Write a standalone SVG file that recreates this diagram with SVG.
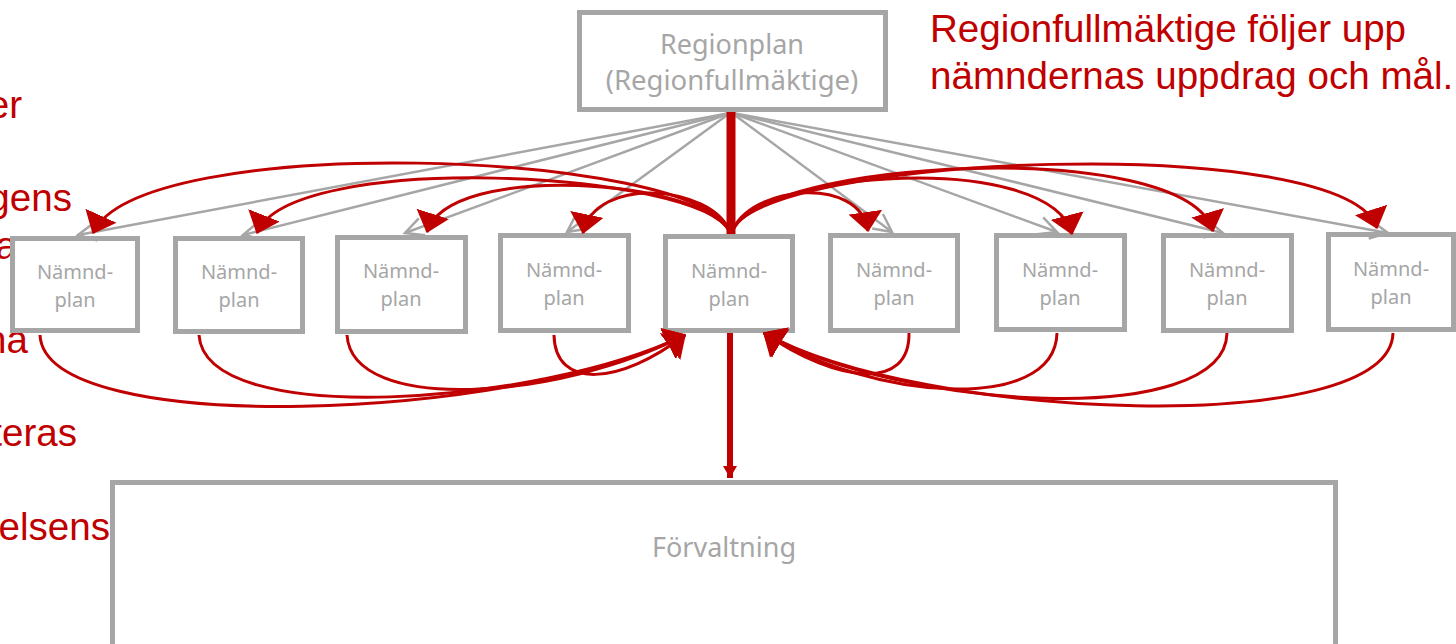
<svg xmlns="http://www.w3.org/2000/svg" width="1456" height="644" viewBox="0 0 1456 644">
<style>
.box{fill:#ffffff;stroke:#a6a6a6;stroke-width:5}
.gt{font-family:"Noto Sans","Open Sans",sans-serif;fill:#a6a6a6;text-anchor:middle}
.nt{font-size:20px}
.rt{font-family:"Liberation Sans",Arial,sans-serif;font-size:38.6px;fill:#c00000}
.gl{fill:none;stroke:#a6a6a6;stroke-width:2.5;marker-end:url(#gv)}
.rc{fill:none;stroke:#c00000;stroke-width:3;marker-end:url(#rtri)}
</style>
<defs>
<marker id="rtri" markerUnits="userSpaceOnUse" viewBox="0 0 20 34" markerWidth="20" markerHeight="34" refX="19" refY="17" orient="auto"><path d="M0,0 L20,17 L0,34 z" fill="#c00000"/></marker>
<marker id="gv" markerUnits="userSpaceOnUse" viewBox="0 0 22 22" markerWidth="22" markerHeight="22" refX="20" refY="11" orient="auto" overflow="visible"><path d="M2,2 L20,11 L2,20" fill="none" stroke="#a6a6a6" stroke-width="2.5"/></marker>
<marker id="rdown" markerUnits="userSpaceOnUse" viewBox="0 0 12 14" markerWidth="12" markerHeight="14" refX="12" refY="7" orient="auto"><path d="M0,0 L12,7 L0,14 z" fill="#c00000"/></marker>
</defs>

<g id="left-text">
<text class="rt" x="22" y="118" text-anchor="end">er</text>
<text class="rt" x="72" y="211" text-anchor="end">gens</text>
<text class="rt" x="17" y="259" text-anchor="end">a</text>
<text class="rt" x="28" y="353" text-anchor="end">na</text>
<text class="rt" x="77" y="446" text-anchor="end">teras</text>
<text class="rt" x="110" y="540" text-anchor="end">elsens</text>
</g>
<g id="note">
<text class="rt" x="930" y="42">Regionfullmäktige följer upp</text>
<text class="rt" x="930" y="89">nämndernas uppdrag och mål.</text>
</g>

<g id="regionplan">
<rect class="box" x="579.5" y="12.5" width="306" height="97"/>
<text class="gt" x="732" y="54" font-size="27">Regionplan</text>
<text class="gt" x="732" y="90" font-size="27.5">(Regionfullmäktige)</text>
</g>

<g id="forvaltning">
<rect class="box" x="112.5" y="482.5" width="1223" height="200"/>
<text class="gt" x="724" y="557" font-size="27">Förvaltning</text>
</g>

<g id="n1"><rect class="box" x="12.5" y="238.5" width="125" height="92"/><text class="gt nt" x="75" y="279">Nämnd-</text><text class="gt nt" x="75" y="307">plan</text></g>
<g id="n2"><rect class="box" x="175.5" y="238.5" width="127" height="93"/><text class="gt nt" x="239" y="279">Nämnd-</text><text class="gt nt" x="239" y="307">plan</text></g>
<g id="n3"><rect class="box" x="337.5" y="237.5" width="128" height="94"/><text class="gt nt" x="401" y="278">Nämnd-</text><text class="gt nt" x="401" y="306">plan</text></g>
<g id="n4"><rect class="box" x="500.5" y="235.5" width="128" height="95"/><text class="gt nt" x="564" y="277">Nämnd-</text><text class="gt nt" x="564" y="305">plan</text></g>
<g id="n5"><rect class="box" x="665.5" y="236.5" width="127" height="94"/><text class="gt nt" x="729" y="278">Nämnd-</text><text class="gt nt" x="729" y="306">plan</text></g>
<g id="n6"><rect class="box" x="830.5" y="235.5" width="127" height="95"/><text class="gt nt" x="894" y="277">Nämnd-</text><text class="gt nt" x="894" y="305">plan</text></g>
<g id="n7"><rect class="box" x="996.5" y="235.5" width="128" height="94"/><text class="gt nt" x="1060" y="277">Nämnd-</text><text class="gt nt" x="1060" y="305">plan</text></g>
<g id="n8"><rect class="box" x="1163.5" y="235.5" width="128" height="95"/><text class="gt nt" x="1227" y="277">Nämnd-</text><text class="gt nt" x="1227" y="305">plan</text></g>
<g id="n9"><rect class="box" x="1328.5" y="234.5" width="125" height="95"/><text class="gt nt" x="1391" y="276">Nämnd-</text><text class="gt nt" x="1391" y="304">plan</text></g>

<g id="connectors">
<g id="gray-lines">
<path class="gl" d="M730,113 L78,235"/>
<path class="gl" d="M730,113 L243,235"/>
<path class="gl" d="M730,113 L405,233"/>
<path class="gl" d="M730,113 L567,232"/>
<path class="gl" d="M732,113 L892,232"/>
<path class="gl" d="M732,113 L1057,232"/>
<path class="gl" d="M732,113 L1223,233"/>
<path class="gl" d="M732,113 L1388,233"/>
</g>
<path d="M731,112 L731,234" stroke="#c00000" stroke-width="9" fill="none"/>
<path d="M730,333 L730,478" stroke="#c00000" stroke-width="6" fill="none" marker-end="url(#rdown)"/>
<g id="top-curves">
<path class="rc" d="M730,232 C700,150 140,130 93,233"/>
<path class="rc" d="M730,232 C700,170 290,150 257,233"/>
<path class="rc" d="M730,232 C705,180 450,160 427,232"/>
<path class="rc" d="M730,232 C712,185 595,175 583,233"/>
<path class="rc" d="M732,232 C750,185 860,175 868,231"/>
<path class="rc" d="M732,232 C755,170 1050,150 1072,234"/>
<path class="rc" d="M732,232 C755,160 1185,135 1213,231"/>
<path class="rc" d="M732,232 C755,155 1345,130 1377,228"/>
</g>
<g id="bottom-curves">
<path class="rc" d="M40,335 C45,440 520,420 685,335"/>
<path class="rc" d="M199,335 C205,430 540,405 685,335"/>
<path class="rc" d="M347,335 C352,415 560,400 685,335"/>
<path class="rc" d="M554,335 C555,390 620,385 685,335"/>
<path class="rc" d="M909,333 C910,390 840,385 764,333"/>
<path class="rc" d="M1057,333 C1055,415 870,400 764,333"/>
<path class="rc" d="M1227,333 C1225,430 900,410 764,333"/>
<path class="rc" d="M1393,333 C1390,440 920,420 764,333"/>
</g>
</g>
</svg>
